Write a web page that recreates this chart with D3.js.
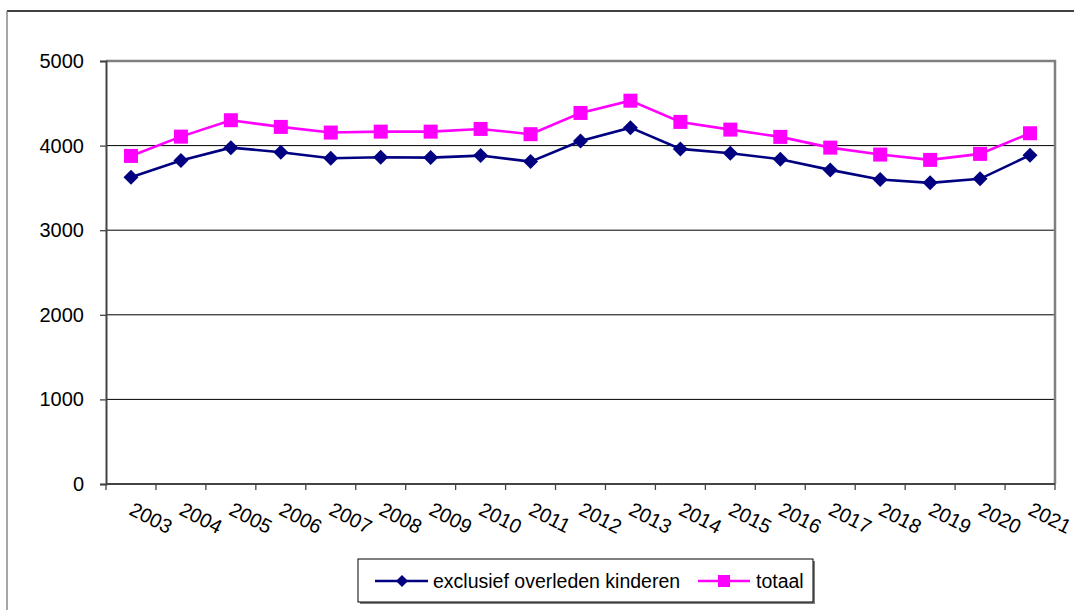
<!DOCTYPE html>
<html>
<head>
<meta charset="utf-8">
<script src="https://cdn.jsdelivr.net/npm/d3@7"></script>
<style>
  html, body { margin: 0; padding: 0; background: #fff; }
  svg { display: block; font-family: "Liberation Sans", Arial, sans-serif; }
</style>
</head>
<body>
<svg id="chart" width="1074" height="610"></svg>
<script>
// Years on the category axis
const years = ["2003","2004","2005","2006","2007","2008","2009","2010","2011","2012",
               "2013","2014","2015","2016","2017","2018","2019","2020","2021"];
// Series values
const exclusief = [3627, 3823, 3976, 3922, 3851, 3863, 3858, 3882, 3811, 4055,
                   4212, 3961, 3910, 3839, 3713, 3599, 3560, 3607, 3887];
const totaal = [3878, 4106, 4300, 4221, 4154, 4165, 4165, 4197, 4135, 4386,
                4531, 4280, 4189, 4103, 3976, 3894, 3831, 3902, 4146];
const yTicks = [0, 1000, 2000, 3000, 4000, 5000];
const seriesNames = ["exclusief overleden kinderen", "totaal"];

const svg = d3.select("#chart");
const plot = { left: 106, right: 1055, top: 61, bottom: 484 };

const x = d3.scaleBand().domain(years).range([plot.left, plot.right]).padding(0);
const y = d3.scaleLinear().domain([0, 5000]).range([plot.bottom, plot.top]);
const cx = d => x(d) + x.bandwidth() / 2;

// Outer chart frame
svg.append("line").attr("x1", 7).attr("y1", 11).attr("x2", 1074).attr("y2", 11)
  .attr("stroke", "#000").attr("stroke-width", 1.3);
svg.append("line").attr("x1", 7).attr("y1", 11).attr("x2", 7).attr("y2", 610)
  .attr("stroke", "#777").attr("stroke-width", 1.3);

// Gridlines
svg.append("g").selectAll("line")
  .data(yTicks.filter(t => t > 0 && t < 5000))
  .join("line")
  .attr("x1", plot.left).attr("x2", plot.right)
  .attr("y1", d => y(d)).attr("y2", d => y(d))
  .attr("stroke", "#000").attr("stroke-width", 1);

// Plot area border (top and right)
svg.append("path")
  .attr("d", `M${plot.left},${plot.top}H${plot.right}V${plot.bottom}`)
  .attr("fill", "none").attr("stroke", "#808080").attr("stroke-width", 2.5);

// Y axis
const yAxis = svg.append("g")
  .attr("transform", `translate(${plot.left},0)`)
  .call(d3.axisLeft(y).tickValues(yTicks).tickSize(6).tickPadding(16).tickFormat(d3.format("d")));
yAxis.select(".domain").attr("stroke", "#444").attr("stroke-width", 2);
yAxis.selectAll(".tick line").attr("stroke", "#444").attr("stroke-width", 1.3);
yAxis.selectAll(".tick text").attr("font-size", 20).attr("fill", "#000")
  .attr("font-family", "Liberation Sans, Arial, sans-serif");

// X axis line and category dividers
svg.append("line").attr("x1", plot.left).attr("x2", plot.right)
  .attr("y1", plot.bottom).attr("y2", plot.bottom)
  .attr("stroke", "#444").attr("stroke-width", 2);
const boundaries = years.map(d => x(d)).concat([x.range()[1]]);
svg.append("g").selectAll("line").data(boundaries).join("line")
  .attr("x1", d => d).attr("x2", d => d)
  .attr("y1", plot.bottom).attr("y2", plot.bottom + 6)
  .attr("stroke", "#444").attr("stroke-width", 1.3);

// Rotated year labels
svg.append("g").selectAll("text").data(years).join("text")
  .attr("transform", d => `translate(${cx(d) - 3},${plot.bottom + 30}) rotate(27)`)
  .attr("text-anchor", "start")
  .attr("font-size", 20)
  .attr("fill", "#000")
  .text(d => d);

// Lines
const line = d3.line().x((v, i) => cx(years[i])).y(v => y(v));
svg.append("path").datum(totaal).attr("d", line)
  .attr("fill", "none").attr("stroke", "#FF00FF").attr("stroke-width", 2.6);
svg.append("path").datum(exclusief).attr("d", line)
  .attr("fill", "none").attr("stroke", "#000080").attr("stroke-width", 2.6);

// Markers
const diamond = (px, py, r) => `M${px},${py - r}L${px + r},${py}L${px},${py + r}L${px - r},${py}Z`;
svg.append("g").selectAll("rect").data(totaal).join("rect")
  .attr("x", (v, i) => cx(years[i]) - 7).attr("y", v => y(v) - 7)
  .attr("width", 14).attr("height", 14).attr("fill", "#FF00FF");
svg.append("g").selectAll("path").data(exclusief).join("path")
  .attr("d", (v, i) => diamond(cx(years[i]), y(v), 7.5))
  .attr("fill", "#000080");

// Legend
const lg = svg.append("g");
lg.append("rect").attr("x", 360).attr("y", 561).attr("width", 455).attr("height", 43)
  .attr("fill", "#808080");
lg.append("rect").attr("x", 358).attr("y", 559).attr("width", 455).attr("height", 43)
  .attr("fill", "#fff").attr("stroke", "#000").attr("stroke-width", 1);
const ly = 581;
lg.append("line").attr("x1", 375).attr("x2", 428).attr("y1", ly).attr("y2", ly)
  .attr("stroke", "#000080").attr("stroke-width", 2.6);
lg.append("path").attr("d", diamond(402, ly, 6)).attr("fill", "#000080");
lg.append("text").attr("x", 433).attr("y", ly).attr("dy", "0.35em")
  .attr("font-size", 19.5).attr("fill", "#000").text(seriesNames[0]);
lg.append("line").attr("x1", 698).attr("x2", 750).attr("y1", ly).attr("y2", ly)
  .attr("stroke", "#FF00FF").attr("stroke-width", 2.6);
lg.append("rect").attr("x", 718).attr("y", ly - 6).attr("width", 12).attr("height", 12)
  .attr("fill", "#FF00FF");
lg.append("text").attr("x", 756).attr("y", ly).attr("dy", "0.35em")
  .attr("font-size", 19.5).attr("fill", "#000").text(seriesNames[1]);
</script>
</body>
</html>
